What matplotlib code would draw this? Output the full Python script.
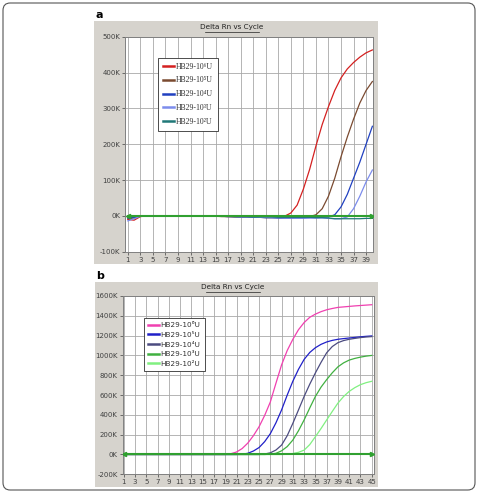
# -*- coding: utf-8 -*-
"""
Delta Rn vs Cycle - two amplification plots (a, b)
"""

import matplotlib
matplotlib.use('Agg')
import matplotlib.pyplot as plt
from matplotlib.patches import Rectangle, FancyBboxPatch
from matplotlib.lines import Line2D

W, H = 479, 493

# ---- panel a data (K units), cycles 1..40 ----
a_cycles = list(range(1, 41))
a_labels = ['HB29-10⁶U', 'HB29-10⁵U', 'HB29-10⁴U', 'HB29-10³U', 'HB29-10²U']
a_colors = ['#d42020', '#7a4a30', '#2040c0', '#7c8cec', '#207878']
a_red = [-10, -12, -2, 0, 0, 0, 0, 0, 0, 0, 0, 0, 0, 0, 0, -1, -2, -2, -3, -3,
         -3, -4, -4, -4, -3, -1, 8, 30, 75, 130, 195, 255, 305, 350, 385, 410, 428, 443, 455, 463]
a_brown = [-8, -6, -1, 0, 0, 0, 0, 0, 0, 0, 0, 0, 0, 0, -1, -2, -2, -3, -3, -3,
           -4, -4, -5, -5, -5, -5, -5, -4, -3, -2, 3, 20, 55, 105, 165, 220, 270, 315, 350, 375]
a_blue = [-6, -4, -1, 0, 0, 0, 0, 0, 0, 0, 0, 0, 0, 0, -1, -1, -2, -2, -3, -3,
          -4, -4, -5, -5, -6, -6, -6, -6, -6, -5, -5, -4, -3, 3, 25, 60, 105, 150, 200, 250]
a_lblue = [-14, -8, -1, 0, 0, 0, 0, 0, 0, 0, 0, 0, 0, 0, -1, -1, -2, -2, -3, -3,
           -3, -4, -4, -5, -5, -6, -6, -6, -6, -6, -6, -6, -7, -8, -8, -3, 20, 55, 95, 128]
a_teal = [-4, -2, 0, 0, 0, 0, 0, 0, 0, 0, 0, 0, 0, 0, 0, -1, -1, -2, -2, -2,
          -3, -3, -3, -3, -4, -4, -4, -4, -4, -4, -5, -5, -6, -8, -8, -8, -8, -8, -7, -7]
a_series = [a_red, a_brown, a_blue, a_lblue, a_teal]
a_yticks = [-100, 0, 100, 200, 300, 400, 500]
a_xticks = list(range(1, 40, 2))

# ---- panel b data (K units), cycles 1..45 ----
b_cycles = list(range(1, 46))
b_labels = ['HB29-10⁶U', 'HB29-10⁵U', 'HB29-10⁴U', 'HB29-10³U', 'HB29-10²U']
b_colors = ['#f040b0', '#2020c8', '#4c4c80', '#40b040', '#80f080']
b_pink = [0] * 19 + [8, 25, 60, 115, 190, 280, 395, 530, 720, 905, 1050, 1163, 1260, 1332,
                     1385, 1417, 1442, 1461, 1474, 1485, 1490, 1495, 1500, 1504, 1508, 1512]
b_blue = [0] * 21 + [3, 12, 35, 70, 130, 210, 320, 450, 600, 740, 860, 960, 1030, 1078,
                     1112, 1136, 1152, 1163, 1170, 1176, 1182, 1188, 1193, 1197]
b_slate = [0] * 25 + [5, 17, 45, 95, 190, 315, 450, 586, 710, 824, 930, 1027, 1090, 1129,
                      1150, 1163, 1172, 1180, 1186, 1190]
b_green = [0] * 26 + [3, 12, 37, 80, 146, 240, 349, 470, 586, 680, 756, 825, 885, 925,
                      953, 970, 983, 993, 1000]
b_lgreen = [0] * 29 + [2, 10, 22, 44, 100, 180, 262, 349, 435, 519, 585, 637, 675, 705,
                       725, 739]
b_series = [b_pink, b_blue, b_slate, b_green, b_lgreen]
b_yticks = list(range(-200, 1601, 200))
b_xticks = list(range(1, 46, 2))

threshold = 0
panel_grey = '#d6d3cd'
thr_color = '#30a030'


def fx(px):
    return px / W


def fy(py):
    return 1 - py / H


fig = plt.figure(figsize=(W / 100, H / 100), dpi=100)

# outer rounded frame
fig.patches.append(FancyBboxPatch((fx(3), fy(490)), fx(472), 487 / H,
                                  boxstyle='round,pad=0,rounding_size=0.015',
                                  transform=fig.transFigure, fill=False,
                                  ec='#555555', lw=0.8, zorder=-2))


def make_panel(letter, grey_box, title_y, ax_box, cycles, series, colors, labels,
               yticks, xticks, xlim, leg_anchor, leg_font, leg_size, leg_spacing):
    gx0, gy0, gx1, gy1 = grey_box
    fig.patches.append(Rectangle((fx(gx0), fy(gy1)), fx(gx1 - gx0), (gy1 - gy0) / H,
                                 transform=fig.transFigure, fc=panel_grey, ec='none',
                                 zorder=-1))
    fig.text(fx(gx0 + 1), fy(gy0 - 6), letter, fontsize=8, fontweight='bold',
             va='center', ha='left')
    cx = (gx0 + gx1) / 2 - 4
    fig.text(fx(cx), fy(title_y), 'Delta Rn vs Cycle', fontsize=5.2,
             ha='center', va='center', color='#202020')
    fig.add_artist(Line2D([fx(cx - 27), fx(cx + 27)], [fy(title_y + 4.5)] * 2,
                          color='#202020', lw=0.5, transform=fig.transFigure))

    x0, y0, x1, y1 = ax_box
    ax = fig.add_axes([fx(x0), fy(y1), fx(x1 - x0), (y1 - y0) / H])
    ax.set_facecolor('white')
    for s, c, lab in zip(series, colors, labels):
        ax.plot(cycles, s, color=c, lw=0.9, label=lab)
    # threshold line with arrow heads
    ax.plot([cycles[0], cycles[-1]], [threshold, threshold], color=thr_color, lw=1.5, zorder=5)
    ax.plot([cycles[0]], [threshold], marker='<', color=thr_color, ms=3, zorder=5)
    ax.plot([cycles[-1]], [threshold], marker='>', color=thr_color, ms=3, zorder=5)

    ax.set_xlim(*xlim)
    ax.set_ylim(yticks[0], yticks[-1])
    ax.set_xticks(xticks)
    ax.set_yticks(yticks)
    ax.set_yticklabels([f'{v}K' for v in yticks])
    ax.tick_params(labelsize=5, colors='#404040', length=2, width=0.5, pad=1.5)
    ax.grid(True, color='#a8a8a8', lw=0.6)
    ax.set_axisbelow(True)
    for sp in ax.spines.values():
        sp.set_color('#808080')
        sp.set_linewidth(0.7)

    leg = ax.legend(loc='upper left', bbox_to_anchor=leg_anchor,
                    prop={'family': leg_font, 'size': leg_size},
                    handlelength=1.4, handletextpad=0.3, labelspacing=leg_spacing,
                    borderpad=0.6, fancybox=False, framealpha=1, edgecolor='#303030',
                    borderaxespad=0)
    leg.get_frame().set_linewidth(0.6)
    for line in leg.get_lines():
        line.set_linewidth(1.8)
    for t in leg.get_texts():
        t.set_color('#303030')
    return ax


make_panel('a', (94, 20.5, 378, 264), 27, (125, 36.7, 373, 251.7),
           a_cycles, a_series, a_colors, a_labels, a_yticks, a_xticks, (0.55, 40.1),
           (0.133, 0.901), ['Liberation Serif', 'DejaVu Serif'], 5.6, 0.75)

make_panel('b', (95, 282, 378, 487), 287.5, (122.7, 296, 374, 474.3),
           b_cycles, b_series, b_colors, b_labels, b_yticks, b_xticks, (0.8, 45.4),
           (0.085, 0.877), ['DejaVu Sans'], 5.2, 0.5)

fig.savefig('out.png', dpi=100)
